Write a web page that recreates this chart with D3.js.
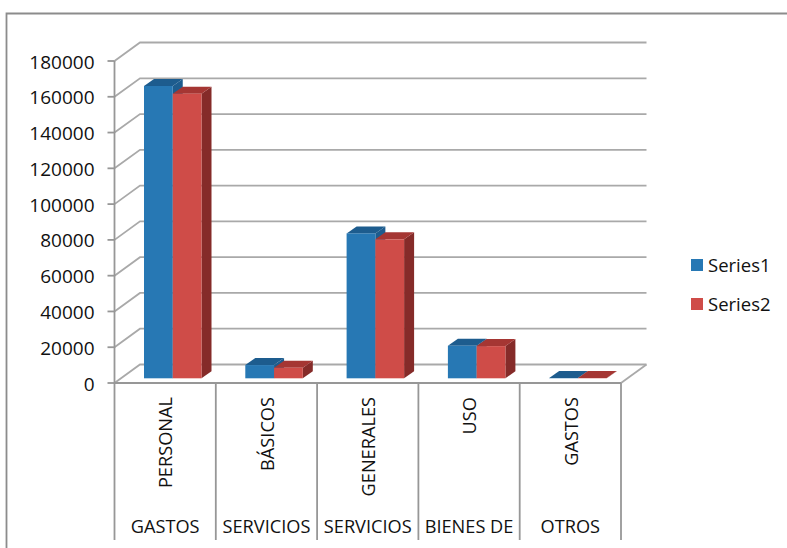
<!DOCTYPE html>
<html lang="en">
<head>
<meta charset="UTF-8">
<title>Gastos</title>
<script src="https://d3js.org/d3.v7.min.js"></script>
<style>
    html, body { margin: 0; padding: 0; background: #fff; overflow: hidden; }
    text { font-family: "Open Sans", sans-serif; fill: #111; }
    .tick-label { font-size: 19px; }
    .cat-label { font-size: 18.2px; }
    .legend-label { font-size: 18.5px; }
</style>
</head>
<body>
<div id="chart"></div>
<script>
// Values
const categoriesOuter = ["GASTOS", "SERVICIOS", "SERVICIOS", "BIENES DE", "OTROS"];
const categoriesInner = ["PERSONAL", "BÁSICOS", "GENERALES", "USO", "GASTOS"];
const seriesNames = ["Series1", "Series2"];
const series1 = [163400, 7400, 81000, 18200, 150];
const series2 = [159100, 5900, 77700, 18000, 150];
const yTicks = [0, 20000, 40000, 60000, 80000, 100000, 120000, 140000, 160000, 180000];

const width = 787, height = 548;
const wallDx = 25.5, wallDy = -18.5;   // shift of the back wall
const barOffY = -4.7;                  // bars stand a bit in from the front edge
const depthDx = 10, depthDy = -7;      // depth of one bar

const colors = {
    Series1: {front: "#2778b4", top: "#1d5c8e", side: "#1d5c8e"},
    Series2: {front: "#cf4c48", top: "#a53633", side: "#852b29"}
};

const svg = d3.select("#chart").append("svg")
    .attr("width", width)
    .attr("height", height);

// Outer frame
svg.append("path")
    .attr("d", "M6.5,548V13.5H787")
    .attr("fill", "none")
    .attr("stroke", "#8c8c8c")
    .attr("stroke-width", 1.8);

const y = d3.scaleLinear().domain([0, 180000]).range([383, 61]);
const x = d3.scaleBand().domain(d3.range(categoriesInner.length)).range([114.5, 621]);
const xInner = d3.scaleBand().domain(seriesNames).range([0, 57.5]);
const barLeft = i => x(i) + 29.5;

// Gridlines: side wall and back wall
const grid = svg.append("g").attr("fill", "none").attr("stroke", "#a9a9a9").attr("stroke-width", 1.8);
grid.selectAll("path")
    .data(yTicks)
    .join("path")
    .attr("d", d => `M${x.range()[0]},${y(d)}L${x.range()[0] + wallDx},${y(d) + wallDy}H${x.range()[1] + wallDx}`);

// Floor edges
grid.append("path")
    .attr("d", `M${x.range()[1]},${y(0)}L${x.range()[1] + wallDx},${y(0) + wallDy}`);

// Y axis and category axis lines
const axes = svg.append("g").attr("fill", "none").attr("stroke", "#979797").attr("stroke-width", 1.8);
axes.append("path").attr("d", `M${x.range()[0]},${y(180000)}V${y(0)}H${x.range()[1]}`);
axes.selectAll("path.tick")
    .data(yTicks)
    .join("path")
    .attr("class", "tick")
    .attr("d", d => `M${x.range()[0] - 7},${y(d)}H${x.range()[0]}`);
axes.selectAll("path.sep")
    .data(d3.range(categoriesInner.length + 1))
    .join("path")
    .attr("class", "sep")
    .attr("d", i => {
        const px = i < categoriesInner.length ? x(i) : x.range()[1];
        return `M${px},${y(0)}V540`;
    });

// Y labels
svg.append("g").selectAll("text")
    .data(yTicks)
    .join("text")
    .attr("class", "tick-label")
    .attr("x", 94.5)
    .attr("y", d => y(d) + 7.6)
    .attr("text-anchor", "end")
    .text(d => d);

// Bars, red drawn over blue from the left
const rows = seriesNames.flatMap((name, s) =>
    (s === 0 ? series1 : series2).map((v, i) => ({name, v, i})));
const bars = svg.append("g").selectAll("g")
    .data(rows)
    .join("g");
const fx = d => barLeft(d.i) + xInner(d.name);
const fw = xInner.bandwidth();
const barTop = d => y(d.v) + barOffY;
const base = y(0) + barOffY;

bars.append("path")
    .attr("fill", d => colors[d.name].side)
    .attr("d", d => `M${fx(d) + fw},${barTop(d)}l${depthDx},${depthDy}V${base + depthDy}L${fx(d) + fw},${base}Z`);
bars.append("path")
    .attr("fill", d => colors[d.name].top)
    .attr("d", d => `M${fx(d)},${barTop(d)}l${depthDx},${depthDy}h${fw}l${-depthDx},${-depthDy}Z`);
bars.append("rect")
    .attr("fill", d => colors[d.name].front)
    .attr("x", fx)
    .attr("y", barTop)
    .attr("width", fw)
    .attr("height", d => base - barTop(d));

// Category labels
svg.append("g").selectAll("text")
    .data(categoriesInner)
    .join("text")
    .attr("class", "cat-label")
    .attr("text-anchor", "end")
    .attr("transform", (d, i) => `translate(${x(i) + x.bandwidth() / 2 + 7.3},397) rotate(-90)`)
    .text(d => d);

svg.append("g").selectAll("text")
    .data(categoriesOuter)
    .join("text")
    .attr("class", "cat-label")
    .attr("text-anchor", "middle")
    .attr("x", (d, i) => x(i) + x.bandwidth() / 2)
    .attr("y", 532.7)
    .text(d => d);

// Legend
const legend = svg.append("g").selectAll("g")
    .data(seriesNames)
    .join("g")
    .attr("transform", (d, i) => `translate(691,${259 + i * 39})`);
legend.append("rect")
    .attr("width", 12)
    .attr("height", 12)
    .attr("fill", d => colors[d].front);
legend.append("text")
    .attr("class", "legend-label")
    .attr("x", 17)
    .attr("y", 12.6)
    .text(d => d);
</script>
</body>
</html>
